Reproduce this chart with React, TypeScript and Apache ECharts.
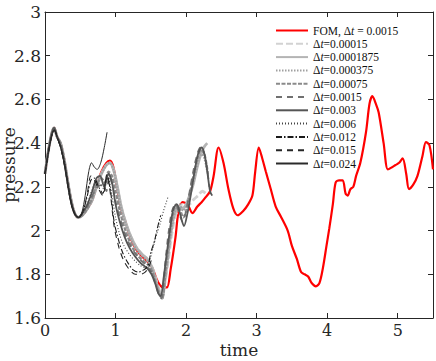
import React, { useEffect, useRef } from "react";
import * as echarts from "echarts";

const xTicks = [0, 1, 2, 3, 4, 5];
const yTicks = [1.6, 1.8, 2, 2.2, 2.4, 2.6, 2.8, 3];

const fom = [[0,2.26],[0.05,2.37],[0.1,2.45],[0.13,2.47],[0.17,2.43],[0.22,2.40],[0.27,2.33],[0.32,2.23],[0.37,2.14],[0.42,2.08],[0.47,2.06],[0.53,2.07],[0.6,2.10],[0.67,2.14],[0.73,2.20],[0.8,2.27],[0.87,2.31],[0.92,2.32],[0.97,2.29],[1.02,2.20],[1.08,2.10],[1.15,2.03],[1.22,1.96],[1.3,1.91],[1.38,1.88],[1.45,1.86],[1.52,1.83],[1.58,1.78],[1.63,1.75],[1.68,1.74],[1.73,1.74],[1.78,1.82],[1.85,1.97],[1.89,2.08],[1.95,2.13],[2.02,2.12],[2.09,2.08],[2.16,2.11],[2.22,2.13],[2.27,2.15],[2.34,2.18],[2.39,2.25],[2.46,2.38],[2.53,2.31],[2.6,2.19],[2.67,2.10],[2.73,2.07],[2.81,2.09],[2.88,2.12],[2.94,2.16],[2.98,2.27],[3.03,2.38],[3.08,2.33],[3.13,2.27],[3.2,2.19],[3.27,2.11],[3.35,2.06],[3.44,2.0],[3.5,1.93],[3.57,1.87],[3.63,1.81],[3.68,1.80],[3.73,1.79],[3.78,1.76],[3.84,1.745],[3.89,1.76],[3.94,1.83],[3.99,1.93],[4.03,2.01],[4.08,2.12],[4.12,2.22],[4.17,2.23],[4.22,2.23],[4.26,2.17],[4.29,2.16],[4.33,2.19],[4.37,2.20],[4.41,2.25],[4.47,2.31],[4.55,2.45],[4.6,2.58],[4.64,2.615],[4.69,2.58],[4.73,2.54],[4.8,2.40],[4.86,2.28],[4.92,2.29],[4.97,2.30],[5.02,2.31],[5.07,2.33],[5.12,2.26],[5.16,2.19],[5.22,2.21],[5.28,2.25],[5.35,2.34],[5.4,2.405],[5.45,2.39],[5.5,2.28]];

const rom00015 = [[0,2.26],[0.05,2.37],[0.1,2.45],[0.13,2.47],[0.17,2.43],[0.22,2.40],[0.27,2.33],[0.32,2.23],[0.37,2.14],[0.42,2.08],[0.47,2.06],[0.53,2.07],[0.6,2.10],[0.67,2.14],[0.73,2.20],[0.8,2.26],[0.87,2.30],[0.92,2.31],[0.97,2.28],[1.02,2.21],[1.08,2.11],[1.15,2.03],[1.22,1.97],[1.3,1.92],[1.38,1.89],[1.45,1.87],[1.52,1.83],[1.58,1.77],[1.63,1.72],[1.66,1.70],[1.70,1.76],[1.75,1.87],[1.8,1.99],[1.85,2.07],[1.9,2.10],[1.95,2.12],[2.0,2.11],[2.05,2.12],[2.1,2.14],[2.17,2.16],[2.23,2.18],[2.28,2.17]];
const rom0001875 = [[0,2.26],[0.05,2.37],[0.1,2.45],[0.13,2.47],[0.17,2.43],[0.22,2.40],[0.27,2.33],[0.32,2.23],[0.37,2.14],[0.42,2.08],[0.47,2.06],[0.53,2.07],[0.6,2.10],[0.67,2.14],[0.73,2.20],[0.8,2.26],[0.87,2.30],[0.92,2.31],[0.97,2.28],[1.02,2.21],[1.08,2.11],[1.15,2.03],[1.22,1.97],[1.3,1.92],[1.38,1.89],[1.45,1.87],[1.52,1.83],[1.58,1.76],[1.63,1.71],[1.66,1.69],[1.70,1.77],[1.75,1.90],[1.8,2.02],[1.85,2.09],[1.9,2.11],[1.95,2.10],[2.0,2.12],[2.05,2.16],[2.1,2.21],[2.15,2.28],[2.2,2.34],[2.25,2.38],[2.3,2.40]];
const rom000375 = [[0,2.26],[0.05,2.37],[0.1,2.45],[0.13,2.47],[0.17,2.43],[0.22,2.40],[0.27,2.33],[0.32,2.23],[0.37,2.14],[0.42,2.08],[0.47,2.06],[0.53,2.07],[0.6,2.10],[0.67,2.14],[0.73,2.20],[0.8,2.26],[0.87,2.30],[0.92,2.31],[0.97,2.28],[1.02,2.20],[1.08,2.10],[1.15,2.02],[1.22,1.96],[1.3,1.91],[1.38,1.88],[1.45,1.86],[1.52,1.82],[1.58,1.76],[1.63,1.71],[1.66,1.69],[1.71,1.80],[1.76,1.93],[1.81,2.04],[1.86,2.10],[1.91,2.12],[1.96,2.09],[2.01,2.12],[2.06,2.17],[2.11,2.23],[2.16,2.30],[2.21,2.35],[2.26,2.33],[2.3,2.27]];
const rom00075 = [[0,2.26],[0.05,2.37],[0.1,2.45],[0.13,2.47],[0.17,2.43],[0.22,2.40],[0.27,2.33],[0.32,2.23],[0.37,2.14],[0.42,2.08],[0.47,2.06],[0.53,2.07],[0.6,2.10],[0.67,2.15],[0.73,2.21],[0.8,2.24],[0.85,2.22],[0.9,2.27],[0.95,2.25],[1.0,2.18],[1.06,2.09],[1.13,2.01],[1.2,1.95],[1.28,1.90],[1.36,1.87],[1.44,1.85],[1.51,1.82],[1.57,1.76],[1.62,1.71],[1.66,1.69],[1.71,1.82],[1.76,1.96],[1.81,2.07],[1.86,2.12],[1.91,2.10],[1.96,2.06],[2.01,2.10],[2.06,2.18],[2.11,2.26],[2.16,2.33],[2.21,2.37],[2.26,2.35],[2.31,2.26]];
const rom0015 = [[0,2.26],[0.05,2.37],[0.1,2.45],[0.13,2.47],[0.17,2.43],[0.22,2.40],[0.27,2.32],[0.32,2.22],[0.37,2.13],[0.42,2.08],[0.47,2.06],[0.53,2.08],[0.6,2.11],[0.67,2.16],[0.75,2.20],[0.82,2.21],[0.87,2.18],[0.91,2.25],[0.96,2.20],[1.01,2.12],[1.07,2.05],[1.14,1.98],[1.21,1.93],[1.29,1.89],[1.37,1.86],[1.44,1.84],[1.51,1.81],[1.57,1.75],[1.62,1.70],[1.65,1.69],[1.70,1.84],[1.75,1.99],[1.8,2.09],[1.85,2.12],[1.9,2.08],[1.95,2.04],[2.0,2.09],[2.05,2.18],[2.1,2.27],[2.15,2.34],[2.2,2.38],[2.25,2.36],[2.3,2.28],[2.33,2.20]];
const rom003 = [[0,2.26],[0.05,2.37],[0.1,2.45],[0.13,2.47],[0.17,2.43],[0.22,2.39],[0.27,2.32],[0.32,2.22],[0.37,2.13],[0.42,2.08],[0.47,2.06],[0.53,2.08],[0.6,2.12],[0.67,2.18],[0.73,2.24],[0.78,2.25],[0.84,2.20],[0.9,2.26],[0.95,2.22],[1.0,2.12],[1.06,2.04],[1.13,1.97],[1.2,1.92],[1.28,1.88],[1.36,1.85],[1.44,1.83],[1.51,1.80],[1.57,1.75],[1.61,1.71],[1.64,1.70],[1.68,1.78],[1.72,1.88],[1.77,2.00],[1.82,2.10],[1.87,2.12],[1.92,2.07],[1.97,2.02],[2.02,2.08],[2.07,2.17],[2.12,2.27],[2.17,2.35],[2.22,2.38],[2.26,2.35],[2.3,2.27],[2.34,2.18],[2.37,2.16]];
const rom006 = [[0,2.26],[0.05,2.36],[0.1,2.44],[0.13,2.46],[0.18,2.42],[0.23,2.38],[0.28,2.31],[0.33,2.21],[0.38,2.12],[0.43,2.07],[0.48,2.06],[0.54,2.08],[0.6,2.12],[0.66,2.18],[0.72,2.22],[0.78,2.21],[0.84,2.19],[0.89,2.25],[0.94,2.18],[1.0,2.06],[1.06,1.98],[1.12,1.93],[1.2,1.89],[1.28,1.86],[1.35,1.84],[1.42,1.83],[1.48,1.86],[1.53,1.92],[1.58,1.98],[1.63,2.03],[1.68,2.09],[1.72,2.13],[1.75,2.16]];
const rom012 = [[0,2.26],[0.05,2.36],[0.1,2.44],[0.13,2.46],[0.18,2.42],[0.23,2.37],[0.28,2.30],[0.33,2.20],[0.38,2.11],[0.43,2.07],[0.48,2.06],[0.54,2.09],[0.6,2.16],[0.65,2.23],[0.7,2.24],[0.76,2.20],[0.82,2.17],[0.87,2.24],[0.92,2.20],[0.98,2.04],[1.04,1.96],[1.1,1.90],[1.18,1.85],[1.25,1.82],[1.32,1.81],[1.4,1.82],[1.46,1.84],[1.5,1.90],[1.55,1.95],[1.6,2.02],[1.64,2.07]];
const rom015 = [[0,2.26],[0.05,2.36],[0.1,2.44],[0.13,2.46],[0.18,2.42],[0.23,2.37],[0.28,2.29],[0.33,2.19],[0.38,2.11],[0.43,2.07],[0.48,2.06],[0.54,2.09],[0.6,2.17],[0.65,2.25],[0.7,2.23],[0.76,2.19],[0.82,2.16],[0.88,2.26],[0.93,2.16],[0.98,2.02],[1.05,1.92],[1.12,1.86],[1.2,1.82],[1.28,1.80],[1.35,1.80],[1.42,1.81],[1.48,1.84],[1.52,1.88]];
const rom024 = [[0,2.26],[0.05,2.36],[0.1,2.44],[0.13,2.46],[0.18,2.42],[0.23,2.37],[0.3,2.26],[0.36,2.15],[0.42,2.08],[0.47,2.06],[0.52,2.08],[0.57,2.16],[0.62,2.27],[0.66,2.31],[0.7,2.29],[0.74,2.28],[0.79,2.31],[0.84,2.38],[0.88,2.45]];

const seriesNames = ["FOM, Δt = 0.0015","Δt=0.00015","Δt=0.0001875","Δt=0.000375","Δt=0.00075","Δt=0.0015","Δt=0.003","Δt=0.006","Δt=0.012","Δt=0.015","Δt=0.024"];
const seriesData = [fom, rom00015, rom0001875, rom000375, rom00075, rom0015, rom003, rom006, rom012, rom015, rom024];
const seriesColors = ["#ff0000","#d2d2d2","#b4b4b4","#a0a0a0","#8a8a8a","#707070","#555555","#444444","#1a1a1a","#262626","#2a2a2a"];
const seriesWidths = [2.2, 2.8, 2.8, 2.2, 2.2, 1.6, 1.8, 1.1, 1.1, 1.1, 1];
const seriesDash: any[] = ["solid", [7, 3], "solid", [1.5, 1.5], [4, 1.5], [6, 5], "solid", [1, 2], [6, 2, 1.5, 2], [6, 5], "solid"];

const serif = "'DejaVu Serif', serif";
const legendSerif = "'Liberation Serif', serif";
const axisColor = "#262626";

function fmtY(v: number) {
  return String(Math.round(v * 10) / 10);
}

export default function App() {
  const ref = useRef<HTMLDivElement>(null);
  useEffect(() => {
    if (!ref.current) return;
    const chart = echarts.init(ref.current, undefined, { renderer: "svg" });
    const baseX = {
      type: "value",
      min: xTicks[0],
      max: 5.5,
      interval: 1,
      splitLine: { show: false },
      axisLine: { show: true, onZero: false, lineStyle: { color: axisColor, width: 1 } },
      axisTick: { show: true, inside: true, length: 5, lineStyle: { color: axisColor } },
    };
    const baseY = {
      type: "value",
      min: yTicks[0],
      max: yTicks[yTicks.length - 1],
      interval: 0.2,
      splitLine: { show: false },
      axisLine: { show: true, onZero: false, lineStyle: { color: axisColor, width: 1 } },
      axisTick: { show: true, inside: true, length: 5, lineStyle: { color: axisColor } },
    };
    chart.setOption({
      animation: false,
      backgroundColor: "#ffffff",
      grid: { left: 45, right: 3, top: 12, bottom: 43, containLabel: false, outerBoundsMode: "none" },
      legend: {
        show: true,
        orient: "vertical",
        left: 270,
        top: 19,
        itemWidth: 32,
        itemHeight: 8,
        itemGap: 0.3,
        data: seriesNames,
        itemStyle: { opacity: 0 },
        textStyle: {
          fontFamily: legendSerif,
          fontSize: 11.5,
          color: "#111111",
          lineHeight: 13,
          rich: { i: { fontFamily: legendSerif, fontSize: 11.5, fontStyle: "italic", color: "#111111" } },
        },
        formatter: (name: string) => name.replace("Δt", "Δ{i|t}"),
      },
      xAxis: [
        {
          ...baseX,
          position: "bottom",
          axisLabel: { show: true, fontFamily: serif, fontSize: 16, lineHeight: 15, color: axisColor, margin: 5, showMaxLabel: false },
          name: "time",
          nameLocation: "middle",
          nameGap: 24,
          nameMoveOverlap: false,
          nameTextStyle: { fontFamily: serif, fontSize: 17, lineHeight: 16, color: axisColor, verticalAlign: "top" },
        },
        { ...baseX, position: "top", axisLabel: { show: false } },
      ],
      yAxis: [
        {
          ...baseY,
          position: "left",
          axisLabel: { show: true, fontFamily: serif, fontSize: 17, color: axisColor, margin: 4, formatter: fmtY },
          name: "pressure",
          nameLocation: "middle",
          nameGap: 28,
          nameMoveOverlap: false,
          nameTextStyle: { fontFamily: serif, fontSize: 17, color: axisColor },
        },
        { ...baseY, position: "right", axisLabel: { show: false } },
      ],
      series: seriesNames.map((name, i) => ({
        name,
        type: "line",
        xAxisIndex: 0,
        yAxisIndex: 0,
        data: seriesData[i],
        showSymbol: false,
        symbol: "none",
        smooth: 0.3,
        color: seriesColors[i],
        lineStyle: { color: seriesColors[i], width: seriesWidths[i], type: seriesDash[i] },
        z: 2,
      })),
    });
    return () => chart.dispose();
  }, []);
  return (
    <div
      ref={ref}
      style={{ position: "fixed", left: 0, top: 0, width: 436, height: 361, background: "#fff" }}
    />
  );
}
